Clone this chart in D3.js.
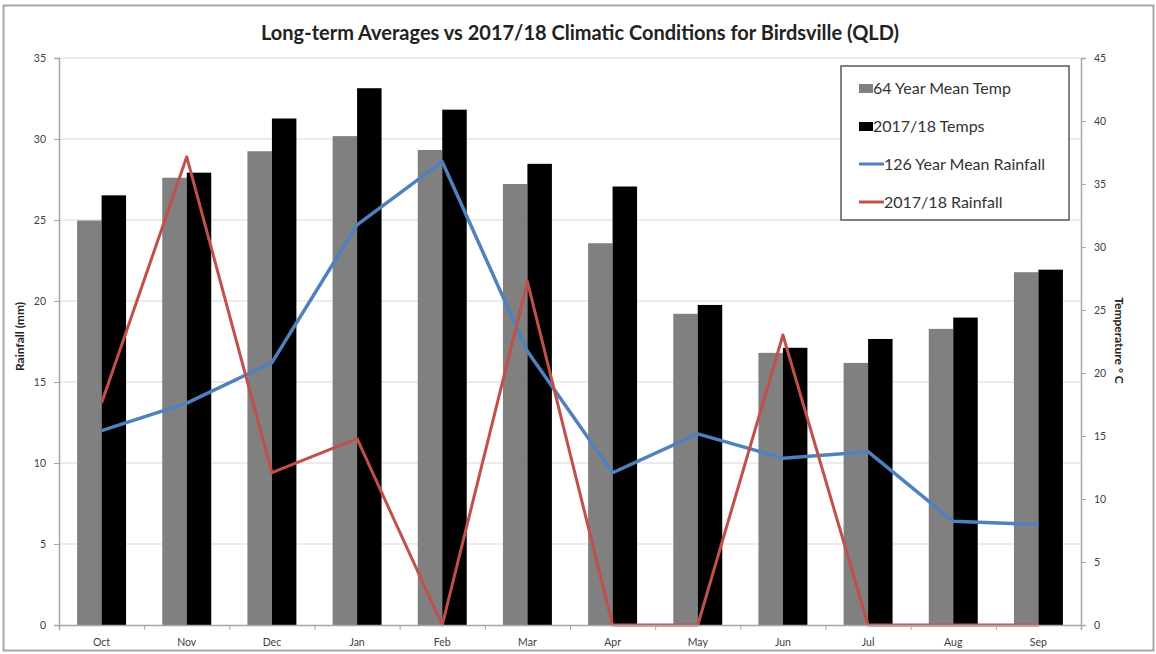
<!DOCTYPE html>
<html>
<head>
<meta charset="utf-8">
<script src="https://cdn.jsdelivr.net/npm/d3@7"></script>
<style>
  body { margin: 0; background: #fff; }
  text { font-family: Lato, "Open Sans", sans-serif; }
</style>
</head>
<body>
<div id="chart"></div>
<script>
// Data
const months = ["Oct", "Nov", "Dec", "Jan", "Feb", "Mar", "Apr", "May", "Jun", "Jul", "Aug", "Sep"];
const meanTemp = [32.1, 35.5, 37.6, 38.8, 37.7, 35.0, 30.3, 24.7, 21.6, 20.8, 23.5, 28.0];
const temps1718 = [34.1, 35.9, 40.2, 42.6, 40.9, 36.6, 34.8, 25.4, 22.0, 22.7, 24.4, 28.2];
const meanRain = [12.0, 13.7, 16.2, 24.7, 28.6, 16.9, 9.4, 11.8, 10.3, 10.7, 6.4, 6.2];
const rain1718 = [13.7, 28.9, 9.4, 11.5, 0, 21.2, 0, 0, 17.9, 0, 0, 0];
const rainTicks = [0, 5, 10, 15, 20, 25, 30, 35];
const tempTicks = [0, 5, 10, 15, 20, 25, 30, 35, 40, 45];

const W = 1156, H = 654;
const plot = { left: 59, right: 1081, top: 58, bottom: 625 };

const svg = d3.select("#chart").append("svg")
  .attr("width", W)
  .attr("height", H);

// outer frame
svg.append("rect")
  .attr("x", 3.5).attr("y", 5.5)
  .attr("width", W - 6).attr("height", H - 9)
  .attr("fill", "none")
  .attr("stroke", "#a6a6a6")
  .attr("stroke-width", 2);

// Scales
const x = d3.scaleBand()
  .domain(months)
  .range([plot.left, plot.right])
  .paddingInner(0.425)
  .paddingOuter(0.2125);
const xSub = d3.scaleBand()
  .domain(["mean", "y1718"])
  .range([0, x.bandwidth()]);
const xTicks = d3.scaleLinear().domain([0, 12]).range([plot.left, plot.right]);
const yRain = d3.scaleLinear().domain([0, 35]).range([plot.bottom, plot.top]);
const yTemp = d3.scaleLinear().domain([0, 45]).range([plot.bottom, plot.top]);

// Gridlines
svg.append("g")
  .selectAll("line")
  .data(rainTicks.slice(1))
  .join("line")
  .attr("x1", plot.left).attr("x2", plot.right)
  .attr("y1", (d) => yRain(d)).attr("y2", (d) => yRain(d))
  .attr("stroke", "#d9d9d9")
  .attr("stroke-width", 1);

// Bars
const barData = months.map((m, i) => ({ month: m, mean: meanTemp[i], y1718: temps1718[i] }));
const barColor = { mean: "#808080", y1718: "#000000" };
svg.append("g")
  .selectAll("g")
  .data(barData)
  .join("g")
  .attr("transform", (d) => `translate(${x(d.month)},0)`)
  .selectAll("rect")
  .data((d) => ["mean", "y1718"].map((k) => ({ key: k, value: d[k] })))
  .join("rect")
  .attr("x", (d) => xSub(d.key))
  .attr("width", xSub.bandwidth())
  .attr("y", (d) => yTemp(d.value))
  .attr("height", (d) => yTemp(0) - yTemp(d.value))
  .attr("fill", (d) => barColor[d.key]);

// Lines
const cx = (i) => x(months[i]) + x.bandwidth() / 2;
const rainLine = d3.line()
  .x((d, i) => cx(i))
  .y((d) => yRain(d));
svg.append("path")
  .attr("d", rainLine(meanRain))
  .attr("fill", "none")
  .attr("stroke", "#4f81bd")
  .attr("stroke-width", 3.5)
  .attr("stroke-linejoin", "round");
svg.append("path")
  .attr("d", rainLine(rain1718))
  .attr("fill", "none")
  .attr("stroke", "#c0504d")
  .attr("stroke-width", 3)
  .attr("stroke-linejoin", "round");

// Axes
const axisColor = "#a6a6a6";
const gLeft = svg.append("g")
  .attr("transform", `translate(${plot.left},0)`)
  .call(d3.axisLeft(yRain).tickValues(rainTicks).tickSize(5).tickPadding(8));
const gRight = svg.append("g")
  .attr("transform", `translate(${plot.right},0)`)
  .call(d3.axisRight(yTemp).tickValues(tempTicks).tickSize(5).tickPadding(8));
const gBottomTicks = svg.append("g")
  .attr("transform", `translate(0,${plot.bottom})`)
  .call(d3.axisBottom(xTicks).ticks(12).tickSize(5).tickFormat(""));
const gBottom = svg.append("g")
  .attr("transform", `translate(0,${plot.bottom})`)
  .call(d3.axisBottom(x).tickSize(0).tickPadding(14));
gBottom.select(".domain").remove();

[gLeft, gRight, gBottomTicks].forEach((g) => {
  g.select(".domain").attr("stroke", axisColor).attr("stroke-width", 1.5);
  g.selectAll(".tick line").attr("stroke", axisColor);
});
[gLeft, gRight, gBottom].forEach((g) => {
  g.selectAll(".tick text")
    .attr("fill", "#404040")
    .style("font-size", "10.5px")
    .style("font-family", "Lato, sans-serif");
});

// Axis titles
svg.append("text")
  .attr("transform", `translate(24,${(plot.top + plot.bottom) / 2 - 5}) rotate(-90)`)
  .attr("text-anchor", "middle")
  .style("font-size", "12px")
  .style("font-weight", "bold")
  .attr("fill", "#222")
  .text("Rainfall (mm)");
svg.append("text")
  .attr("transform", `translate(1115,${(plot.top + plot.bottom) / 2 - 1}) rotate(90)`)
  .attr("text-anchor", "middle")
  .style("font-size", "12px")
  .style("font-weight", "bold")
  .attr("fill", "#222")
  .text("Temperature ° C");

// Title
svg.append("text")
  .attr("x", 580)
  .attr("y", 40)
  .attr("text-anchor", "middle")
  .style("font-size", "20px")
  .style("font-weight", "bold")
  .attr("fill", "#222")
  .text("Long-term Averages vs 2017/18 Climatic Conditions for Birdsville (QLD)");

// Legend
const legendItems = [
  { label: "64 Year Mean Temp", type: "bar", color: "#808080" },
  { label: "2017/18 Temps", type: "bar", color: "#000000" },
  { label: "126 Year Mean Rainfall", type: "line", color: "#4f81bd" },
  { label: "2017/18 Rainfall", type: "line", color: "#c0504d" },
];
const legend = svg.append("g").attr("transform", "translate(841,66)");
legend.append("rect")
  .attr("width", 228).attr("height", 154)
  .attr("fill", "#fff")
  .attr("stroke", "#595959")
  .attr("stroke-width", 1.5);
const rows = legend.selectAll("g")
  .data(legendItems)
  .join("g")
  .attr("transform", (d, i) => `translate(18,${22 + i * 38})`);
rows.filter((d) => d.type === "bar").append("rect")
  .attr("x", 0).attr("y", -4)
  .attr("width", 14).attr("height", 9)
  .attr("fill", (d) => d.color);
rows.filter((d) => d.type === "line").append("line")
  .attr("x1", 0).attr("x2", 25)
  .attr("stroke", (d) => d.color)
  .attr("stroke-width", 3);
rows.append("text")
  .attr("x", (d) => (d.type === "bar" ? 14 : 25))
  .attr("y", 5.5)
  .style("font-size", "16px")
  .attr("fill", "#333")
  .text((d) => d.label);
</script>
</body>
</html>
